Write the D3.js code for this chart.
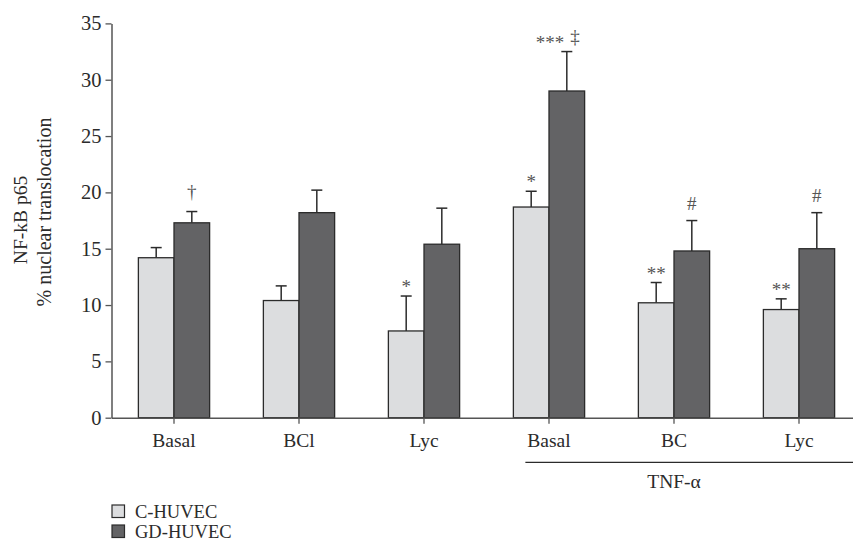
<!DOCTYPE html>
<html lang="en">
<head>
<meta charset="UTF-8">
<title>NF-kB p65 nuclear translocation</title>
<script src="https://d3js.org/d3.v7.min.js"></script>
<style>
    body { margin: 0; background: #fff; }
    svg { display: block; font-family: "Liberation Serif", "Times New Roman", serif; }
</style>
</head>
<body>
<svg width="853" height="541"></svg>
<script>
    // values
    var categories = ["Basal", "BCl", "Lyc", "Basal", "BC", "Lyc"];
    var seriesNames = ["C-HUVEC", "GD-HUVEC"];
    var cHuvec = [14.2, 10.4, 7.7, 18.7, 10.2, 9.6];
    var cErr = [0.9, 1.3, 3.1, 1.4, 1.8, 0.95];
    var gdHuvec = [17.3, 18.2, 15.4, 29.0, 14.8, 15.0];
    var gdErr = [1.0, 2.0, 3.2, 3.5, 2.7, 3.2];
    var cMarks = ["", "", "*", "*", "**", "**"];
    var gdMarks = ["†", "", "", "***", "#", "#"];
    var yTicks = [0, 5, 10, 15, 20, 25, 30, 35];

    var colors = ["#dcdddf", "#636365"];

    var svg = d3.select("svg"),
        plotLeft = 111.5, plotRight = 861.5,
        plotTop = 23.4, plotBottom = 417.7;

    var x = d3.scaleBand()
        .domain(d3.range(categories.length))
        .range([plotLeft, plotRight])
        .paddingInner(0.43)
        .paddingOuter(0.215);

    var x1 = d3.scaleBand()
        .domain([0, 1])
        .range([0, x.bandwidth()]);

    var y = d3.scaleLinear()
        .domain([0, 35])
        .range([plotBottom, plotTop]);

    var rows = categories.map(function(c, i) {
        return [
            {i: i, s: 0, v: cHuvec[i], e: cErr[i], m: cMarks[i]},
            {i: i, s: 1, v: gdHuvec[i], e: gdErr[i], m: gdMarks[i]}
        ];
    });
    var flat = [].concat.apply([], rows);

    function cx(d) { return x(d.i) + x1(d.s) + x1.bandwidth() / 2; }

    // error bars (upper only)
    var err = svg.append("g")
        .attr("stroke", "#2b2b2b")
        .attr("stroke-width", 1.5);

    err.selectAll("line.v")
        .data(flat)
        .enter().append("line")
        .attr("x1", cx)
        .attr("x2", cx)
        .attr("y1", function(d) { return y(d.v); })
        .attr("y2", function(d) { return y(d.v + d.e); });

    err.selectAll("line.cap")
        .data(flat)
        .enter().append("line")
        .attr("x1", function(d) { return cx(d) - 5.5; })
        .attr("x2", function(d) { return cx(d) + 5.5; })
        .attr("y1", function(d) { return y(d.v + d.e); })
        .attr("y2", function(d) { return y(d.v + d.e); });

    // bars
    svg.append("g")
        .selectAll("rect")
        .data(flat)
        .enter().append("rect")
        .attr("x", function(d) { return x(d.i) + x1(d.s); })
        .attr("y", function(d) { return y(d.v); })
        .attr("width", x1.bandwidth())
        .attr("height", function(d) { return y(0) - y(d.v); })
        .attr("fill", function(d) { return colors[d.s]; })
        .attr("stroke", "#2b2b2b")
        .attr("stroke-width", 1.3);

    // significance marks
    var marks = svg.append("g")
        .attr("fill", "#555")
        .attr("text-anchor", "middle")
        .attr("font-size", 19);

    var mark = marks.selectAll("text")
        .data(flat.filter(function(d) { return d.m; }))
        .enter().append("text")
        .attr("x", function(d) { return cx(d) - (d.i === 3 && d.s === 1 ? 9 : 0); })
        .attr("y", function(d) {
            var gap = d.m.charAt(0) === "*" ? 3 : (d.m === "#" ? 11 : 14);
            return y(d.v + d.e) - gap;
        })
        .text(function(d) { return d.m; });

    mark.filter(function(d) { return d.i === 3 && d.s === 1; })
        .append("tspan")
        .attr("dx", 6)
        .attr("dy", -6)
        .text("‡");

    // axes
    var yAxis = svg.append("g")
        .attr("transform", "translate(" + plotLeft + ",0)")
        .call(d3.axisLeft(y).tickValues(yTicks).tickSize(6).tickPadding(4).tickSizeOuter(0));

    var xAxis = svg.append("g")
        .attr("transform", "translate(0," + plotBottom + ")")
        .call(d3.axisBottom(x).tickSize(6).tickPadding(9).tickSizeOuter(0)
            .tickFormat(function(i) { return categories[i]; }));

    [yAxis, xAxis].forEach(function(a) {
        a.select(".domain").attr("stroke", "#555").attr("stroke-width", 1.5);
        a.selectAll(".tick line").attr("stroke", "#555").attr("stroke-width", 1.3);
        a.selectAll(".tick text")
            .attr("fill", "#2b2b2b")
            .attr("font-size", 19.5)
            .attr("font-family", "Liberation Serif, serif");
    });
    yAxis.selectAll(".tick text").attr("font-size", 20.5);

    // TNF-alpha bracket
    svg.append("line")
        .attr("x1", x(3) + 12)
        .attr("x2", 853)
        .attr("y1", 462.3)
        .attr("y2", 462.3)
        .attr("stroke", "#2b2b2b")
        .attr("stroke-width", 1.3);

    svg.append("text")
        .attr("x", x(4) + x.bandwidth() / 2)
        .attr("y", 488)
        .attr("text-anchor", "middle")
        .attr("font-size", 19.5)
        .attr("fill", "#2b2b2b")
        .text("TNF-α");

    // y label
    svg.append("text")
        .attr("transform", "translate(27,220)rotate(-90)")
        .attr("text-anchor", "middle")
        .attr("font-size", 19.5)
        .attr("fill", "#2b2b2b")
        .text("NF-kB p65");

    svg.append("text")
        .attr("transform", "translate(51,212)rotate(-90)")
        .attr("text-anchor", "middle")
        .attr("font-size", 20)
        .attr("fill", "#2b2b2b")
        .text("% nuclear translocation");

    // legend
    var legend = svg.append("g")
        .selectAll("g")
        .data(seriesNames)
        .enter().append("g")
        .attr("transform", function(d, i) { return "translate(112," + (505 + i * 20) + ")"; });

    legend.append("rect")
        .attr("width", 12.5)
        .attr("height", 12.5)
        .attr("fill", function(d, i) { return colors[i]; })
        .attr("stroke", "#2b2b2b")
        .attr("stroke-width", 1.2);

    legend.append("text")
        .attr("x", 23)
        .attr("y", 12.5)
        .attr("font-size", 18.5)
        .attr("fill", "#2b2b2b")
        .text(function(d) { return d; });
</script>
</body>
</html>
